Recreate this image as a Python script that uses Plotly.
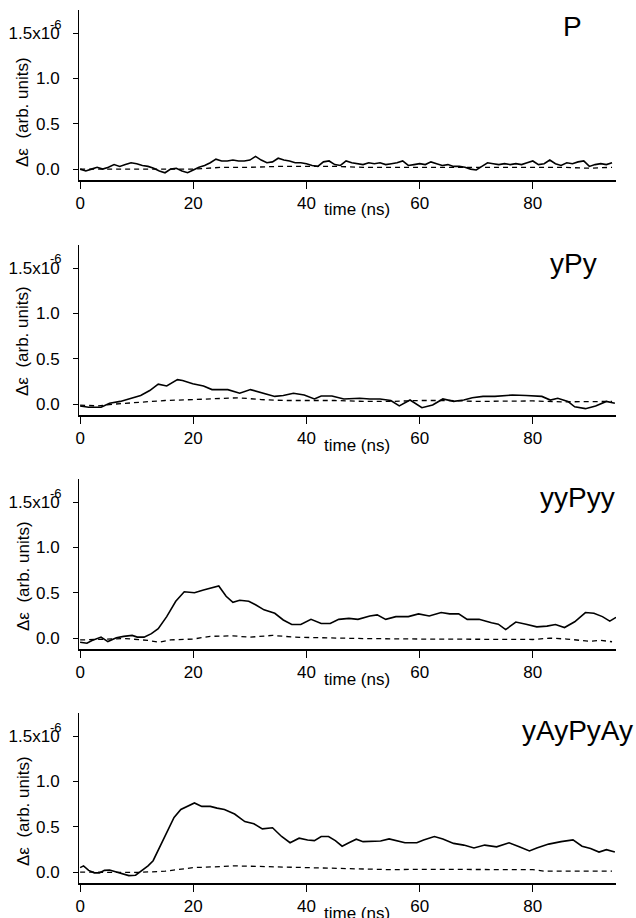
import plotly.graph_objects as go

# ---------------- data (values in units of 1e-6) ----------------
TIME_TICKS = [0, 20, 40, 60, 80]
TIME_TICK_LABELS = ["0", "20", "40", "60", "80"]
DE_TICKS = [0.0, 0.5, 1.0, 1.5]
DE_TICK_LABELS = ["0.0", "0.5", "1.0", "1.5x10"]
PANEL_NAMES = ["P", "yPy", "yyPyy", "yAyPyAy"]

P_t = [0, 1, 2, 3, 4, 5, 6, 7, 8, 9, 10, 11, 12, 13, 14, 15, 16, 17, 18, 19,
       20, 21, 22, 23, 24, 25, 26, 27, 28, 29, 30, 31, 32, 33, 34, 35, 36, 37, 38, 39,
       40, 41, 42, 43, 44, 45, 46, 47, 48, 49, 50, 51, 52, 53, 54, 55, 56, 57, 58, 59,
       60, 61, 62, 63, 64, 65, 66, 67, 68, 69, 70, 71, 72, 73, 74, 75, 76, 77, 78, 79,
       80, 81, 82, 83, 84, 85, 86, 87, 88, 89, 90, 91, 92, 93, 94]
P_solid = [0.00, -0.02, 0.00, 0.02, 0.00, 0.02, 0.05, 0.03, 0.05, 0.07,
           0.06, 0.04, 0.03, 0.01, -0.02, -0.04, 0.00, 0.01, -0.02, -0.04,
           -0.01, 0.02, 0.04, 0.07, 0.11, 0.09, 0.09, 0.10, 0.09, 0.09,
           0.10, 0.14, 0.10, 0.07, 0.08, 0.12, 0.10, 0.09, 0.07, 0.07,
           0.06, 0.04, 0.03, 0.08, 0.09, 0.05, 0.04, 0.09, 0.07, 0.06,
           0.05, 0.07, 0.06, 0.07, 0.05, 0.06, 0.07, 0.09, 0.04, 0.05,
           0.06, 0.05, 0.08, 0.06, 0.04, 0.05, 0.03, 0.03, 0.02, 0.00,
           -0.01, 0.03, 0.07, 0.06, 0.05, 0.06, 0.05, 0.06, 0.05, 0.07,
           0.09, 0.05, 0.06, 0.10, 0.06, 0.04, 0.07, 0.06, 0.08, 0.09,
           0.03, 0.05, 0.06, 0.05, 0.07]
P_dash_t = [0, 5, 10, 15, 20, 25, 30, 35, 40, 45, 50, 55, 60, 65, 70, 75, 80, 85, 90, 94]
P_dash = [0.0, 0.0, 0.0, -0.005, 0.0, 0.02, 0.02, 0.03, 0.03, 0.03,
          0.02, 0.02, 0.02, 0.02, 0.015, 0.02, 0.02, 0.02, 0.01, 0.02]

yPy_t = [0, 1.5, 3.7, 5.2, 7.1, 8.9, 10.7, 12.3, 13.8, 15.3, 17.2, 18.1, 19.9, 21.8,
         23.3, 26.1, 28.2, 30.1, 32.2, 34.4, 35.9, 37.7, 39.6, 41.4, 42.6, 44.5, 46.6,
         49.4, 51.2, 53, 54.9, 56.4, 58.3, 60.4, 62.3, 64.1, 66, 67.8, 69.3, 71.2, 73.3,
         76.4, 78.8, 81.6, 83.1, 84.4, 86.2, 87.4, 89.3, 91.1, 93, 94.5]
yPy_solid = [-0.02, -0.035, -0.035, 0.01, 0.03, 0.065, 0.095, 0.15, 0.22, 0.20, 0.27,
             0.26, 0.225, 0.20, 0.16, 0.16, 0.12, 0.16, 0.12, 0.085, 0.095, 0.12, 0.10,
             0.057, 0.09, 0.09, 0.057, 0.065, 0.057, 0.057, 0.04, -0.02, 0.045, -0.04,
             -0.01, 0.057, 0.03, 0.045, 0.07, 0.085, 0.085, 0.10, 0.095, 0.085, 0.045,
             0.065, 0.03, -0.03, -0.05, -0.02, 0.03, 0.01]
yPy_dash_t = [0, 3, 6, 10, 15, 20, 25, 28, 32, 36, 40, 45, 50, 55, 60, 65, 70, 75, 80, 85, 90, 94]
yPy_dash = [-0.01, -0.02, 0.0, 0.02, 0.04, 0.05, 0.06, 0.07, 0.05, 0.04, 0.04,
            0.04, 0.03, 0.03, 0.04, 0.04, 0.03, 0.03, 0.035, 0.025, 0.03, 0.03]

yyPyy_t = [0, 1.2, 2.1, 3.7, 4.9, 6.4, 7.7, 9.2, 10.1, 11.3, 12.6, 13.8, 15.3, 16.9,
           18.4, 20.2, 21.8, 23.3, 24.5, 25.8, 27, 28.2, 29.8, 31, 32.5, 34.4, 35.9,
           37.4, 39, 40.8, 42.6, 44.2, 45.7, 47.5, 49.1, 51.2, 52.5, 54, 55.8, 58, 59.8,
           61.7, 63.8, 65.3, 66.9, 68.4, 70.5, 72.7, 73.9, 75.2, 77, 78.8, 80.7, 82.5,
           84, 85.6, 87.4, 89.3, 90.8, 92.3, 93.6, 94.7]
yyPyy_solid = [-0.045, -0.056, -0.026, 0.011, -0.038, 0.004, 0.019, 0.03, 0.011, 0.011,
               0.049, 0.105, 0.237, 0.406, 0.511, 0.50, 0.53, 0.556, 0.575, 0.462, 0.395,
               0.417, 0.406, 0.368, 0.312, 0.274, 0.20, 0.15, 0.15, 0.207, 0.162, 0.162,
               0.207, 0.218, 0.207, 0.244, 0.256, 0.207, 0.237, 0.237, 0.267, 0.244, 0.282,
               0.267, 0.267, 0.207, 0.207, 0.169, 0.154, 0.094, 0.177, 0.154, 0.124, 0.132,
               0.15, 0.117, 0.18, 0.282, 0.274, 0.237, 0.188, 0.229]
yyPyy_dash_t = [0, 5, 8, 12, 14, 16, 20, 23, 27, 30, 34, 38, 45, 50, 60, 70, 75, 80, 83, 86, 90, 92, 94]
yyPyy_dash = [-0.02, -0.01, -0.005, -0.025, -0.045, -0.02, -0.01, 0.02, 0.025, 0.01,
              0.03, 0.01, 0.0, -0.005, -0.01, -0.015, -0.02, -0.015, 0.0, -0.01, -0.035,
              -0.025, -0.04]

yAy_t = [0, 0.6, 1.5, 2.5, 3.4, 4.3, 5.2, 6.4, 7.7, 8.6, 9.8, 10.7, 12, 12.9, 14.1,
         15.3, 16.6, 17.8, 19, 20.2, 21.5, 23, 24.2, 25.5, 27.3, 29.1, 30.7, 32.2, 34,
         35.6, 37.1, 38.7, 40.2, 41.4, 42.6, 43.9, 45.1, 46.3, 47.5, 48.8, 50, 51.8,
         53.1, 54.6, 56.1, 57.4, 59.5, 60.7, 62.6, 64.1, 66, 67.8, 69.6, 71.5, 73.6,
         75.8, 77.6, 79.4, 80.7, 82.8, 85, 87.1, 88.7, 90.2, 91.7, 93, 94.5]
yAy_solid = [0.05, 0.069, 0.019, -0.008, -0.008, 0.019, 0.023, 0.0, -0.019, -0.038,
             -0.034, 0.011, 0.069, 0.126, 0.279, 0.45, 0.603, 0.691, 0.729, 0.763, 0.725,
             0.725, 0.706, 0.691, 0.641, 0.557, 0.534, 0.477, 0.489, 0.393, 0.324, 0.374,
             0.355, 0.347, 0.393, 0.393, 0.347, 0.286, 0.324, 0.363, 0.336, 0.344, 0.344,
             0.366, 0.344, 0.324, 0.324, 0.355, 0.393, 0.366, 0.317, 0.298, 0.267, 0.298,
             0.279, 0.324, 0.279, 0.233, 0.267, 0.309, 0.336, 0.355, 0.286, 0.26, 0.221,
             0.248, 0.221]
yAy_dash_t = [0, 5, 10, 15, 20, 25, 27, 30, 35, 40, 45, 50, 55, 60, 70, 80, 82, 90, 94]
yAy_dash = [0.0, 0.0, -0.004, 0.01, 0.05, 0.061, 0.069, 0.065, 0.057, 0.05, 0.038,
            0.035, 0.027, 0.031, 0.027, 0.027, 0.01, 0.01, 0.01]

SOLID_T = [P_t, yPy_t, yyPyy_t, yAy_t]
SOLID_V = [P_solid, yPy_solid, yyPyy_solid, yAy_solid]
DASH_T = [P_dash_t, yPy_dash_t, yyPyy_dash_t, yAy_dash_t]
DASH_V = [P_dash, yPy_dash, yyPyy_dash, yAy_dash]

# ---------------- layout geometry (page pixels) ----------------
W, H = 636, 918
ZERO_PX = [169, 404, 638, 872]        # page row of y = 0 in each panel
X_LEFT, X_RIGHT = 79, 616
NAME_X = [572, 573, 577, 577]
NAME_Y = [26, 263, 498, 730]
YLAB_Y = [112, 341, 576, 811]
FONT = "Liberation Sans, Arial, Helvetica, sans-serif"


def fx(p):
    return p / W


def fy(p):
    return 1 - p / H


fig = go.Figure()
layout = dict(
    width=W, height=H,
    margin=dict(l=0, r=0, t=0, b=0),
    paper_bgcolor="white", plot_bgcolor="white",
    showlegend=False,
    font=dict(family=FONT, size=17, color="black"),
    annotations=[],
)

for i in range(4):
    sfx = "" if i == 0 else str(i + 1)
    fig.add_trace(go.Scatter(x=SOLID_T[i], y=SOLID_V[i], mode="lines",
                             line=dict(color="black", width=1.6),
                             xaxis="x" + sfx, yaxis="y" + sfx))
    fig.add_trace(go.Scatter(x=DASH_T[i], y=DASH_V[i], mode="lines",
                             line=dict(color="black", width=1.3, dash="5px,4px"),
                             xaxis="x" + sfx, yaxis="y" + sfx))
    z = ZERO_PX[i]
    top, bot = z - 159, z + 11
    layout["xaxis" + sfx] = dict(
        domain=[fx(X_LEFT), fx(X_RIGHT)], range=[-0.2, 94.7], anchor="y" + sfx,
        tickmode="array", tickvals=TIME_TICKS, ticktext=TIME_TICK_LABELS,
        ticks="outside", ticklen=7, tickwidth=1, tickcolor="black",
        showline=True, linecolor="black", linewidth=1.5,
        showgrid=False, zeroline=False, automargin=False,
        tickfont=dict(family=FONT, size=17, color="black"),
    )
    layout["yaxis" + sfx] = dict(
        domain=[fy(bot), fy(top)], range=[-0.12, 1.755], anchor="x" + sfx,
        tickmode="array", tickvals=DE_TICKS, ticktext=DE_TICK_LABELS,
        ticks="outside", ticklen=5, tickwidth=1, tickcolor="black",
        showline=True, linecolor="black", linewidth=1,
        showgrid=False, zeroline=False, automargin=False,
        ticklabelstandoff=10,
        tickfont=dict(family=FONT, size=17, color="black"),
    )
    # exponent of top tick label
    layout["annotations"].append(dict(
        text="-6", xref="paper", yref="paper", x=fx(56), y=fy(z - 145),
        xanchor="center", yanchor="middle", showarrow=False,
        font=dict(family=FONT, size=13, color="black")))
    # panel name
    layout["annotations"].append(dict(
        text=PANEL_NAMES[i], xref="paper", yref="paper", x=fx(NAME_X[i]),
        y=fy(NAME_Y[i]), xanchor="center", yanchor="middle", showarrow=False,
        font=dict(family=FONT, size=28, color="black")))
    # y-axis title
    layout["annotations"].append(dict(
        text="\u0394\u03b5  (arb. units)", xref="paper", yref="paper", x=fx(23),
        y=fy(YLAB_Y[i]), xanchor="center", yanchor="middle", showarrow=False,
        textangle=-90, font=dict(family=FONT, size=17, color="black")))
    # x-axis title
    layout["annotations"].append(dict(
        text="time (ns)", xref="paper", yref="paper", x=fx(322),
        y=fy(bot + 30), xanchor="left", yanchor="middle", showarrow=False,
        font=dict(family=FONT, size=17, color="black")))

fig.update_layout(**layout)
fig.write_html(
    "out.html",
    config={"displayModeBar": False, "staticPlot": True},
    post_script="document.body.style.margin='0px';"
                "document.documentElement.style.overflow='hidden';",
)
